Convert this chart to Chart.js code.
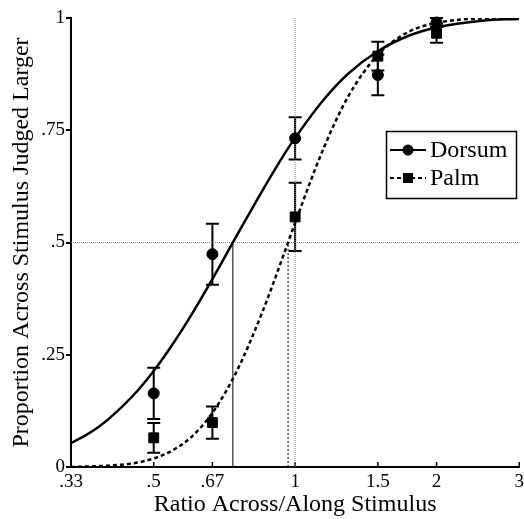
<!DOCTYPE html>
<html>
<head>
<meta charset="utf-8">
<script src="https://cdn.jsdelivr.net/npm/chart.js@4/dist/chart.umd.min.js"></script>
<style>
  body { margin: 0; background: #fff; }
  #wrap { width: 524px; height: 519px; }
</style>
</head>
<body>
<div id="wrap"><canvas id="psychometric"></canvas></div>
<script>
// stimulus ratios (across/along) and observed proportions with error bars
const ratios = [0.5, 2 / 3, 1, 1.5, 2];
const dorsumMean = [0.164, 0.474, 0.732, 0.873, 0.99];
const dorsumErr = [0.057, 0.068, 0.047, 0.045, 0.01];
const palmMean = [0.065, 0.099, 0.557, 0.915, 0.966];
const palmErr = [0.033, 0.036, 0.076, 0.032, 0.021];

// fitted curves
const fitX = [0.3333, 0.36, 0.38, 0.4, 0.45, 0.5, 0.55, 0.6, 0.667, 0.75, 0.85, 0.95, 1.0, 1.15, 1.3, 1.5, 1.75, 2, 2.5, 3];
const dorsumFit = [0.053, 0.072, 0.088, 0.106, 0.157, 0.214, 0.275, 0.337, 0.419, 0.514, 0.614, 0.698, 0.733, 0.818, 0.877, 0.926, 0.961, 0.979, 0.994, 0.998];
const palmFit = [0.000, 0.001, 0.002, 0.003, 0.008, 0.019, 0.038, 0.066, 0.121, 0.212, 0.343, 0.479, 0.544, 0.710, 0.827, 0.918, 0.970, 0.989, 0.999, 1.000];

// points of subjective equality (Dorsum, Palm)
const pse = [0.737, 0.966];

const xTicks = [1 / 3, 0.5, 2 / 3, 1, 1.5, 2, 3];
const xTickLabels = ['.33', '.5', '.67', '1', '1.5', '2', '3'];
const yTicks = [0, 0.25, 0.5, 0.75, 1];
const yTickLabels = ['0', '.25', '.5', '.75', '1'];

const seriesNames = ['Dorsum', 'Palm'];

const serif = 'Liberation Serif';

const pts = (xs, ys) => xs.map((x, i) => ({ x: x, y: ys[i] }));

// error bars + inward x ticks
const errorBars = {
  id: 'errorBars',
  beforeDatasetsDraw(chart) {
    const { ctx } = chart;
    const xs = chart.scales.x, ys = chart.scales.y;
    ctx.save();
    ctx.strokeStyle = '#000';
    ctx.lineWidth = 2;
    [[dorsumMean, dorsumErr], [palmMean, palmErr]].forEach(([m, e]) => {
      ratios.forEach((r, i) => {
        const px = xs.getPixelForValue(r);
        const top = ys.getPixelForValue(m[i] + e[i]);
        const bot = ys.getPixelForValue(m[i] - e[i]);
        ctx.beginPath();
        ctx.moveTo(px, top); ctx.lineTo(px, bot);
        ctx.moveTo(px - 6.5, top); ctx.lineTo(px + 6.5, top);
        ctx.moveTo(px - 6.5, bot); ctx.lineTo(px + 6.5, bot);
        ctx.stroke();
      });
    });
    // x ticks point up into the plot
    ctx.lineWidth = 1.5;
    const base = ys.getPixelForValue(0);
    xTicks.forEach(t => {
      const px = xs.getPixelForValue(t);
      ctx.beginPath();
      ctx.moveTo(px, base); ctx.lineTo(px, base - 5);
      ctx.stroke();
    });
    ctx.restore();
  }
};

// boxed legend inside the plot
const boxLegend = {
  id: 'boxLegend',
  afterDraw(chart) {
    const { ctx } = chart;
    ctx.save();
    ctx.strokeStyle = '#000';
    ctx.fillStyle = '#000';
    ctx.lineWidth = 1.5;
    ctx.strokeRect(386.5, 131.5, 130, 67);
    const rows = [150, 178];
    ctx.font = '24px "' + serif + '"';
    ctx.textBaseline = 'middle';
    rows.forEach((y, i) => {
      ctx.lineWidth = 2;
      ctx.setLineDash(i === 0 ? [] : [4, 3]);
      ctx.beginPath();
      ctx.moveTo(390, y); ctx.lineTo(426, y);
      ctx.stroke();
      ctx.setLineDash([]);
      if (i === 0) {
        ctx.beginPath();
        ctx.arc(408, y, 5.5, 0, Math.PI * 2);
        ctx.fill();
      } else {
        ctx.fillRect(403, y - 5, 10, 10);
      }
      ctx.fillText(seriesNames[i], 430, y + 1);
    });
    ctx.restore();
  }
};

new Chart(document.getElementById('psychometric'), {
  type: 'scatter',
  data: {
    datasets: [
      {
        label: seriesNames[0],
        data: pts(ratios, dorsumMean),
        pointStyle: 'circle',
        pointRadius: 5.5,
        backgroundColor: '#000',
        borderColor: '#000',
        clip: false
      },
      {
        label: seriesNames[1],
        data: pts(ratios, palmMean),
        pointStyle: 'rect',
        pointRadius: 7,
        backgroundColor: '#000',
        borderColor: '#000',
        clip: false
      },
      {
        label: 'Dorsum fit',
        data: pts(fitX, dorsumFit),
        showLine: true,
        pointRadius: 0,
        borderColor: '#000',
        borderWidth: 2.5,
        cubicInterpolationMode: 'monotone'
      },
      {
        label: 'Palm fit',
        data: pts(fitX, palmFit),
        showLine: true,
        pointRadius: 0,
        borderColor: '#000',
        borderWidth: 2.5,
        borderDash: [4, 3],
        cubicInterpolationMode: 'monotone'
      },
      {
        label: 'half',
        data: [{ x: 1 / 3, y: 0.5 }, { x: 3, y: 0.5 }],
        showLine: true,
        pointRadius: 0,
        borderColor: '#888',
        borderWidth: 1,
        borderDash: [1, 1]
      },
      {
        label: 'equal',
        data: [{ x: 1, y: 0 }, { x: 1, y: 1 }],
        showLine: true,
        pointRadius: 0,
        borderColor: '#888',
        borderWidth: 1,
        borderDash: [1, 1]
      },
      {
        label: 'Dorsum PSE',
        data: [{ x: pse[0], y: 0 }, { x: pse[0], y: 0.5 }],
        showLine: true,
        pointRadius: 0,
        borderColor: '#000',
        borderWidth: 1
      },
      {
        label: 'Palm PSE',
        data: [{ x: pse[1], y: 0 }, { x: pse[1], y: 0.5 }],
        showLine: true,
        pointRadius: 0,
        borderColor: '#000',
        borderWidth: 1,
        borderDash: [2, 2]
      }
    ]
  },
  options: {
    responsive: true,
    maintainAspectRatio: false,
    animation: false,
    layout: { autoPadding: false, padding: { top: 18, right: 0 } },
    plugins: {
      legend: { display: false },
      tooltip: { enabled: false }
    },
    scales: {
      x: {
        type: 'logarithmic',
        bounds: 'data',
        min: 1 / 3,
        max: 3,
        afterBuildTicks: s => { s.ticks = xTicks.map(v => ({ value: v })); },
        afterFit: s => { s.height = 52; },
        ticks: {
          autoSkip: false,
          maxRotation: 0,
          padding: 0,
          color: '#000',
          font: { family: serif, size: 19 },
          callback: (v, i) => xTickLabels[i]
        },
        grid: { drawOnChartArea: false, drawTicks: true, tickLength: 4, color: 'rgba(0,0,0,0)' },
        border: { color: '#000', width: 2 },
        title: {
          display: true,
          text: 'Ratio Across/Along Stimulus',
          color: '#000',
          font: { family: serif, size: 24 },
          padding: { top: 0, bottom: 0 }
        }
      },
      y: {
        min: 0,
        max: 1,
        afterBuildTicks: s => { s.ticks = yTicks.map(v => ({ value: v })); },
        afterFit: s => { s.width = 71; },
        ticks: {
          padding: 1,
          color: '#000',
          font: { family: serif, size: 19 },
          callback: (v, i) => yTickLabels[i]
        },
        grid: { drawOnChartArea: false, tickLength: 5, color: '#000', lineWidth: 2 },
        border: { color: '#000', width: 2 },
        title: {
          display: true,
          text: 'Proportion Across Stimulus Judged Larger',
          color: '#000',
          font: { family: serif, size: 24 },
          padding: { top: 7, bottom: 0 }
        }
      }
    }
  },
  plugins: [errorBars, boxLegend]
});
</script>
</body>
</html>
